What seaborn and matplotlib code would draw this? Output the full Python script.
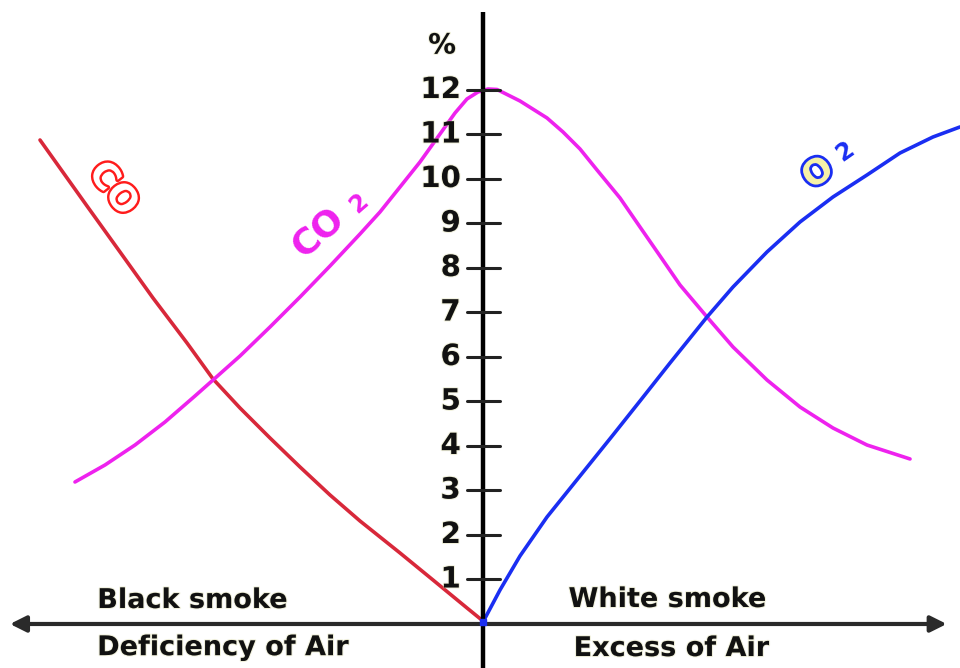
import matplotlib
matplotlib.use("Agg")
import matplotlib.pyplot as plt
import matplotlib.patheffects as pe
import pandas as pd
import seaborn as sns

# Flue-gas content (%) against air supply: x < 0 deficiency of air, x > 0 excess of air
co_x = [-9.955, -8.899, -8.157, -7.416, -6.652, -6.067, -5.461, -4.787, -4.112,
        -3.438, -2.764, -1.865, -1.124, -0.360, 0.0]
co_y = [10.876, 9.393, 8.360, 7.326, 6.315, 5.506, 4.854, 4.180, 3.528,
        2.899, 2.315, 1.596, 0.989, 0.360, 0.067]

co2_x = [-9.169, -8.494, -7.820, -7.146, -6.472, -6.067, -5.461, -4.787, -4.112,
         -3.438, -2.764, -2.315, -1.865, -1.416, -0.966, -0.629, -0.360, -0.112,
         0.112, 0.315, 0.831, 1.438, 1.798, 2.180, 2.562, 3.079, 3.528, 3.978,
         4.427, 5.034, 5.618, 6.382, 7.124, 7.865, 8.629, 9.596]
co2_y = [3.191, 3.573, 4.022, 4.539, 5.124, 5.483, 6.022, 6.674, 7.348,
         8.045, 8.764, 9.258, 9.820, 10.382, 11.011, 11.483, 11.798, 11.955,
         12.022, 12.011, 11.753, 11.371, 11.056, 10.674, 10.202, 9.573, 8.921, 8.270,
         7.618, 6.899, 6.225, 5.483, 4.876, 4.404, 4.022, 3.708]

o2_x = [0.0, 0.382, 0.831, 1.438, 2.180, 2.921, 3.528, 4.202, 5.034,
        5.618, 6.382, 7.124, 7.865, 8.629, 9.371, 10.112, 10.719]
o2_y = [0.045, 0.764, 1.528, 2.404, 3.326, 4.247, 5.011, 5.865, 6.899,
        7.573, 8.360, 9.034, 9.596, 10.090, 10.584, 10.944, 11.169]

y_ticks = list(range(1, 13))

sns.set_theme(style="white")
plt.rcParams["font.family"] = ["DejaVu Sans"]

fig = plt.figure(figsize=(9.6, 6.68), dpi=100)
ax = fig.add_axes([0, 0, 1, 1])
ax.set_xlim(-10.854, 10.719)
ax.set_ylim(-0.989, 14.022)
ax.axis("off")

c_co, c_co2, c_o2 = "#d8283a", "#ee22ee", "#1a2ef2"

curves = pd.concat([
    pd.DataFrame({"x": co_x, "y": co_y, "gas": "CO"}),
    pd.DataFrame({"x": co2_x, "y": co2_y, "gas": "CO2"}),
    pd.DataFrame({"x": o2_x, "y": o2_y, "gas": "O2"}),
])
sns.lineplot(data=curves, x="x", y="y", hue="gas", sort=False, estimator=None,
             palette={"CO": c_co, "CO2": c_co2, "O2": c_o2}, linewidth=2.6,
             solid_joinstyle="round", solid_capstyle="round",
             legend=False, ax=ax)

# Axes through the origin: vertical % scale and a two-headed air-supply arrow
ax.plot([0, 0], [-0.99, 13.75], color="black", lw=3.2, solid_capstyle="butt", zorder=3)
arrow = dict(arrowstyle="-|>", color="#2a2a2a", lw=3, mutation_scale=24,
             shrinkA=0, shrinkB=0)
ax.annotate("", xy=(-10.63, 0), xytext=(0, 0), arrowprops=arrow)
ax.annotate("", xy=(10.42, 0), xytext=(0, 0), arrowprops=arrow)
ax.plot([0], [0.05], "s", color=c_o2, ms=5, zorder=4)

halo = [pe.withStroke(linewidth=1.5, foreground="#d4d49a", alpha=0.35)]
for t in y_ticks:
    ax.plot([-0.36, 0.38], [t, t], color="#222222", lw=2.2, zorder=3)
    ax.text(-0.50, t, str(t), ha="right", va="center", fontsize=21,
            fontweight="bold", color="#111111", path_effects=halo)
ax.text(-0.92, 13.0, "%", ha="center", va="center", fontsize=20,
        fontweight="bold", color="#111111", path_effects=halo)

lab = dict(fontsize=19.5, fontweight="bold", color="#111111", ha="center",
           va="baseline", path_effects=halo)
ax.text(-6.528, 0.36, "Black smoke", **lab)
ax.text(-5.843, -0.70, "Deficiency of Air", **lab)
ax.text(4.146, 0.382, "White smoke", **lab)
ax.text(4.236, -0.72, "Excess of Air", **lab)

# Curve labels
ax.text(-8.317, 9.775, "CO", fontsize=26, fontweight="bold", color="white",
        rotation=-52, ha="center", va="center", rotation_mode="anchor",
        path_effects=[pe.withStroke(linewidth=3.5, foreground="#ff1c1c")])
ax.text(-3.70, 8.80, "CO", fontsize=26, fontweight="bold", color=c_co2,
        rotation=41, ha="center", va="center", rotation_mode="anchor")
ax.text(-2.80, 9.45, "2", fontsize=17, fontweight="bold", color=c_co2,
        rotation=41, ha="center", va="center", rotation_mode="anchor")
o2_halo = [pe.withStroke(linewidth=4, foreground=c_o2)]
ax.text(7.53, 10.13, "O", fontsize=25, fontweight="bold", color="#f6f2a8",
        rotation=35, ha="center", va="center", rotation_mode="anchor",
        path_effects=o2_halo)
ax.text(8.12, 10.62, "2", fontsize=17, fontweight="bold", color=c_o2,
        rotation=35, ha="center", va="center", rotation_mode="anchor")

fig.savefig("out.png", dpi=100)
